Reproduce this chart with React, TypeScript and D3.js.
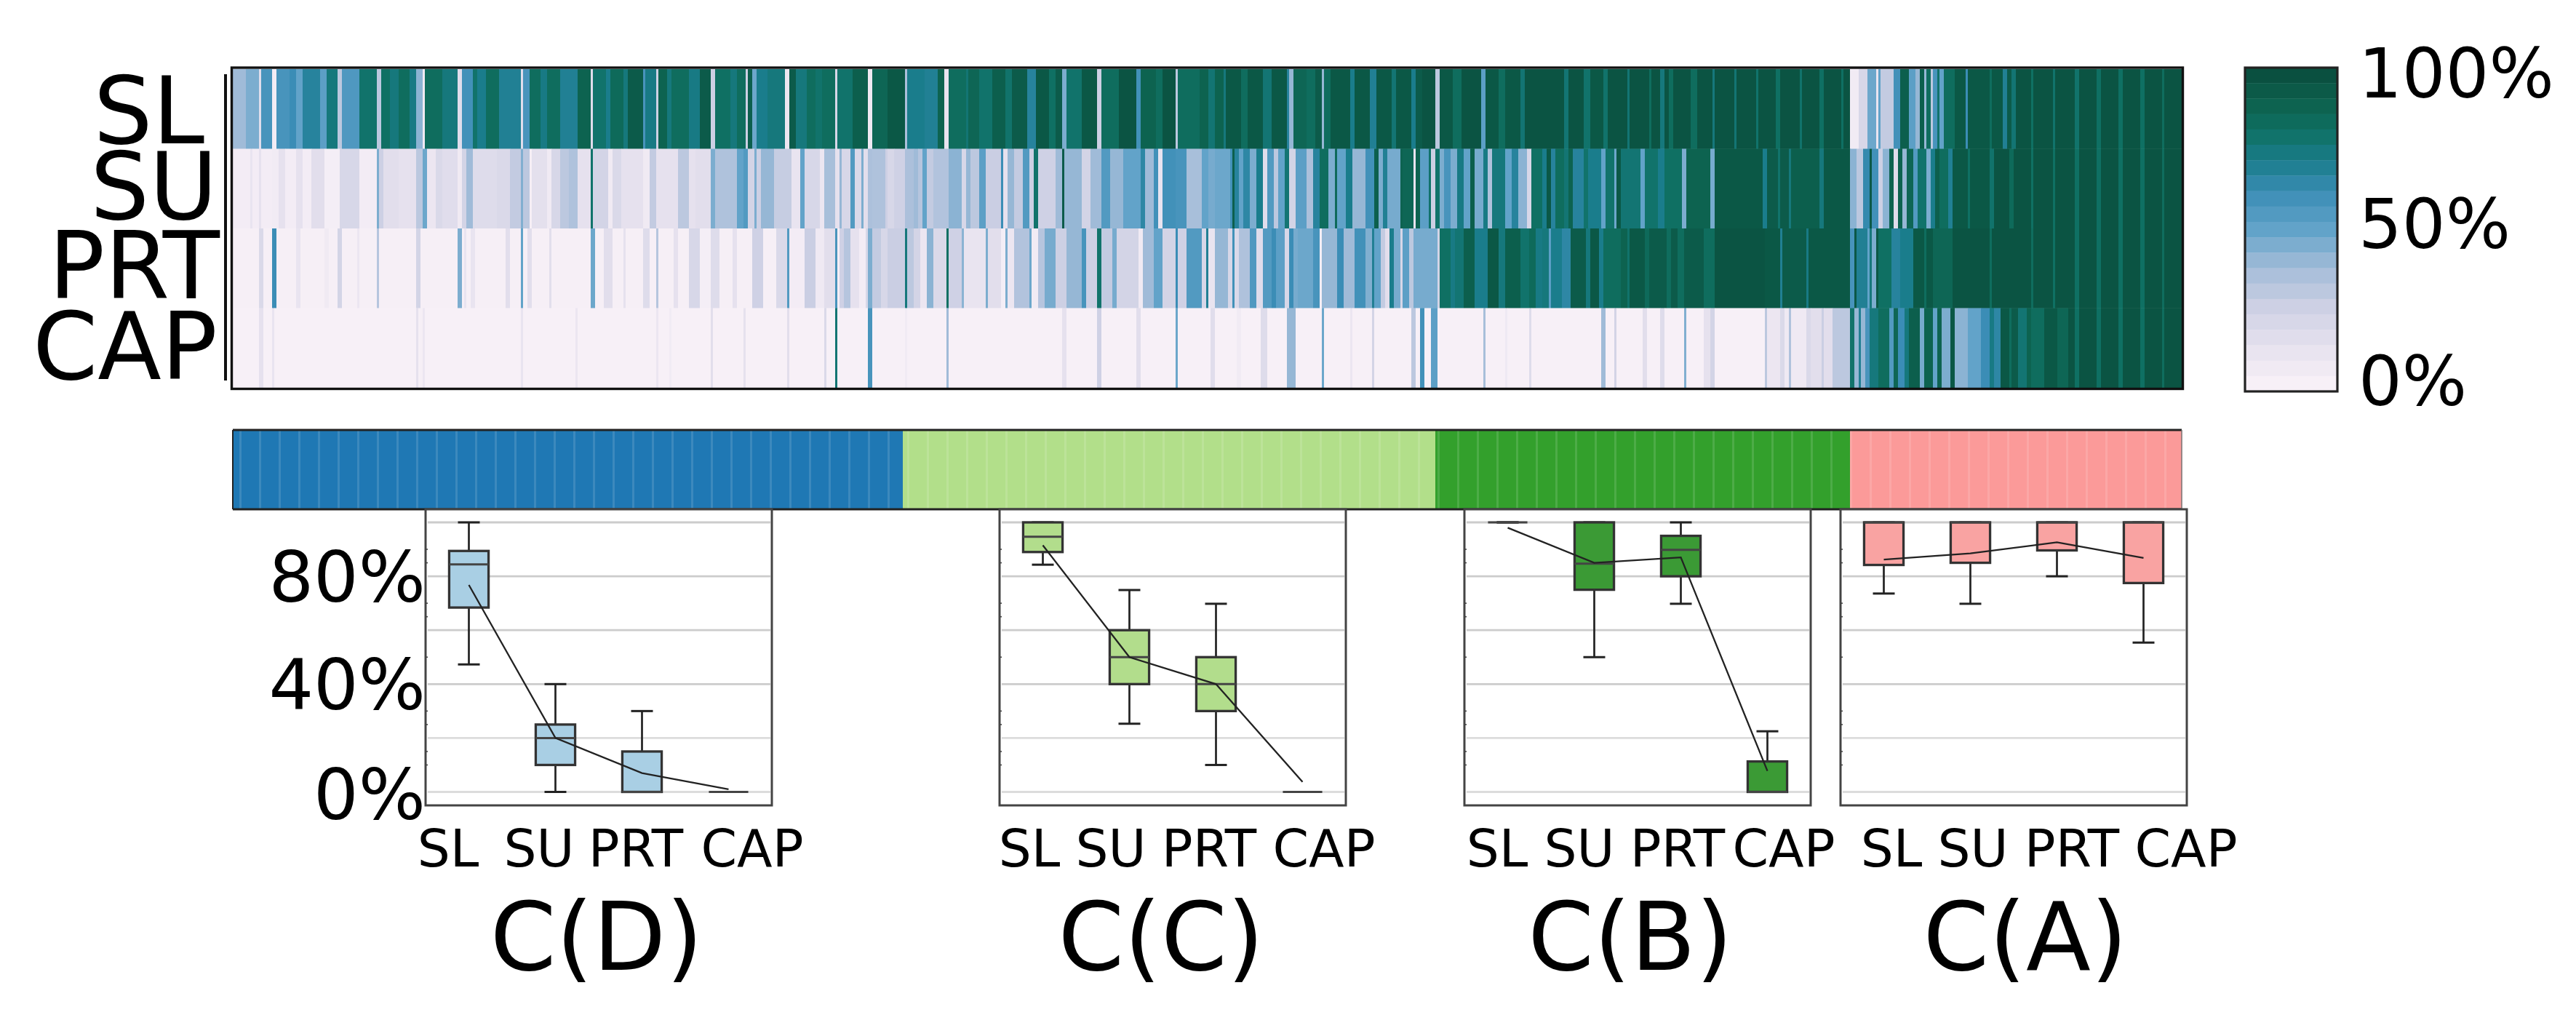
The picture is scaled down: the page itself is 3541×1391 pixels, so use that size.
import * as d3 from 'd3'

const WIDTH = 3541
const HEIGHT = 1391
const FONT = '"DejaVu Sans", sans-serif'

const rowNames = ['SL', 'SU', 'PRT', 'CAP']
const columnCount = 893

// each pair is [last column of the run, percent] left to right
const slRuns = [
  [6,38],[12,45],[13,15],[18,58],[20,3],[26,58],[29,62],[32,50],[40,68],[43,52],[48,76],[50,30],[58,56],[66,80],[68,30],[72,82],[76,76],[81,84],[84,74],[87,42],[88,5],[96,84],[103,76],[105,15],[110,60],[112,80],[116,72],[122,84],[132,70],[133,15],[136,58],[141,84],[144,74],[150,84],
  [158,70],[164,90],[165,15],[171,80],[173,72],[179,86],[181,76],[188,94],[189,58],[194,74],[195,25],[199,90],[201,76],[209,84],[214,74],[219,94],[221,25],[228,82],[231,76],[235,84],[236,25],[238,92],[240,48],[245,72],[253,76],[255,8],[258,94],[263,76],[267,84],[270,80],[276,84],[277,20],[284,80],[291,92],[293,5],[300,88],
  [308,96],[309,35],[317,72],[323,70],[326,90],[328,10],[336,84],[337,78],[342,88],[348,80],[354,92],[357,80],[364,94],[368,68],[374,96],[377,82],[380,94],[382,45],[389,80],[396,96],[398,25],[406,84],[414,98],[416,60],[423,90],[426,84],[432,98],[433,30],[443,84],[447,90],[450,78],
  [454,90],[455,76],[462,96],[465,84],[472,96],[476,78],[483,96],[484,68],[486,40],[492,88],[496,84],[499,94],[500,40],[503,84],[512,96],[514,72],[521,96],[524,70],[531,96],[533,78],[540,96],[542,72],[545,94],[551,98],[553,30],[559,96],[563,84],[572,98],[574,52],[580,96],[583,84],[590,96],[592,78],[600,98],
  [610,98],[612,78],[619,98],[622,80],[628,96],[630,80],[639,98],[640,78],[649,98],[650,84],[654,98],[656,76],[658,98],[660,84],[668,98],[671,84],[678,98],[679,76],[688,98],[689,78],[698,98],[699,80],[707,98],[709,82],[718,98],[719,80],[727,98],[729,82],[737,98],[738,82],[741,98],
  [745,4],[749,20],[753,48],[754,10],[755,50],[761,28],[764,60],[768,92],[771,52],[773,40],[775,92],[776,40],[778,84],[779,30],[781,58],[782,80],[784,50],[789,84],[794,96],[795,62],[805,96],[806,84],[811,96],[813,70],[815,94],[817,78],[824,98],[825,82],[834,98],[835,80],[844,98],[846,80],[854,98],[856,82],[864,98],[866,82],[874,98],[876,82],[884,98],[885,84],[893,98],
]

const suRuns = [
  [8,3],[9,10],[12,3],[13,12],[18,3],[21,4],[24,12],[29,3],[32,12],[36,3],[42,14],[49,2],[58,20],[66,3],[67,45],[69,25],[76,14],[84,12],[87,30],[89,48],[93,8],[96,18],[103,15],[105,5],[107,22],[110,38],[121,16],[127,18],[132,28],[133,44],[136,30],[137,1],[144,13],[146,5],[150,20],
  [154,30],[158,34],[164,12],[165,80],[172,22],[174,5],[178,18],[188,12],[191,5],[194,28],[196,12],[204,12],[209,30],[212,12],[219,14],[221,45],[231,34],[234,50],[236,55],[239,22],[240,45],[242,25],[248,40],[256,27],[260,10],[262,50],[263,20],[269,20],[271,8],[276,36],[278,12],[279,40],[283,20],[285,55],[288,18],[289,45],[291,14],[293,35],[299,34],[300,25],
  [303,20],[308,24],[312,35],[314,38],[316,32],[318,50],[321,28],[328,33],[334,42],[336,20],[338,40],[342,30],[345,52],[352,26],[353,62],[355,12],[358,40],[362,28],[365,55],[367,25],[369,80],[377,24],[380,38],[381,94],[389,40],[393,22],[398,38],[402,55],[408,40],[416,50],[418,66],[422,38],[424,60],[426,10],[432,60],[437,58],[444,36],[447,50],[450,46],
  [457,48],[458,60],[459,92],[461,68],[463,50],[466,66],[469,45],[472,72],[474,15],[477,55],[479,30],[482,50],[484,78],[487,22],[492,52],[495,35],[498,68],[502,84],[505,45],[506,86],[510,50],[513,72],[519,40],[523,60],[525,92],[527,45],[529,70],[535,46],[536,90],[541,88],[542,10],[544,90],[548,52],[549,80],[551,25],[553,80],[555,45],[558,58],[561,45],[564,74],[567,50],[569,92],[573,46],[575,74],[577,34],[583,76],[586,50],[589,68],[593,42],[595,20],[600,82],
  [602,72],[604,96],[606,68],[610,84],[612,78],[614,90],[619,68],[621,80],[627,72],[629,50],[633,80],[634,48],[636,96],[645,78],[647,50],[653,80],[656,72],[664,82],[666,45],[677,90],[679,46],[701,96],[703,72],[708,94],[709,80],[713,94],[714,76],[727,92],[729,76],[741,96],
  [744,42],[747,30],[750,64],[751,96],[754,60],[756,25],[759,42],[761,90],[763,15],[765,90],[767,40],[770,88],[772,55],[776,80],[778,45],[780,72],[782,92],[786,84],[788,70],[795,96],[796,82],[805,96],[807,80],[814,98],[816,86],[824,98],[825,82],[834,98],[835,82],[844,98],[846,82],[854,98],[856,82],[864,98],[866,82],[874,98],[876,82],[884,98],[885,84],[893,98],
]

const prtRuns = [
  [12,1],[14,18],[18,1],[20,62],[29,1],[31,10],[42,1],[44,5],[48,1],[50,22],[57,1],[58,8],[66,1],[67,32],[84,1],[86,22],[103,1],[105,45],[106,1],[107,10],[109,1],[111,10],[125,1],[127,14],[132,1],[133,50],[135,1],[137,14],[145,1],[146,14],[150,1],
  [164,1],[166,48],[170,1],[174,14],[179,1],[180,12],[188,1],[191,16],[194,1],[195,32],[202,1],[204,12],[209,1],[214,20],[219,2],[223,16],[229,1],[231,12],[238,1],[243,24],[249,1],[254,18],[255,55],[262,3],[267,26],[271,6],[276,14],[277,58],[278,2],[280,24],[283,32],[287,12],[290,3],[291,20],[293,45],[297,28],[300,20],
  [308,26],[309,76],[312,30],[315,22],[318,8],[321,42],[327,18],[328,82],[334,24],[335,42],[345,10],[346,45],[352,14],[354,2],[355,45],[358,8],[365,33],[366,48],[369,4],[372,32],[377,46],[382,25],[389,40],[391,58],[396,25],[398,80],[403,28],[405,46],[415,22],[417,5],[422,38],[426,50],[432,22],[433,62],[437,24],[444,55],[446,20],[447,70],[450,10],
  [456,40],[458,20],[459,60],[461,18],[466,34],[469,56],[472,16],[476,55],[478,62],[482,52],[484,20],[486,62],[488,46],[495,48],[498,58],[499,2],[506,40],[509,62],[514,38],[519,60],[522,44],[523,70],[526,50],[528,28],[530,14],[532,72],[535,46],[536,20],[539,52],[541,30],[552,46],[553,22],[558,82],[560,74],[564,78],[569,92],[575,72],[580,96],[583,76],[590,92],[594,80],[597,86],[600,74],
  [603,76],[604,52],[609,72],[613,66],[620,94],[622,76],[626,96],[628,72],[636,84],[639,90],[640,80],[647,96],[649,86],[657,94],[659,84],[662,94],[665,84],[674,94],[679,84],[702,98],[709,96],[710,70],[721,94],[722,74],[741,96],
  [743,58],[744,96],[749,70],[750,50],[751,76],[753,45],[754,96],[760,82],[764,68],[770,72],[775,96],[776,84],[779,96],[788,88],[805,98],[806,84],[824,98],[825,84],[834,98],[835,82],[844,98],[846,82],[854,98],[856,82],[864,98],[866,82],[874,98],[876,82],[884,98],[885,84],[893,98],
]

const capRuns = [
  [12,0],[14,12],[18,0],[19,10],[84,0],[85,12],[87,1],[88,8],[132,0],[133,10],
  [157,0],[158,8],[194,0],[195,8],[200,0],[201,4],[219,0],[220,14],[234,0],[235,12],[254,0],[255,14],[271,0],[272,18],[276,0],[277,78],[291,0],[293,58],
  [308,0],[309,4],[327,0],[328,38],[380,0],[382,12],[396,0],[398,24],[414,0],[416,14],[432,0],[433,48],[448,0],[450,15],
  [460,0],[462,4],[471,0],[474,16],[483,0],[487,40],[499,0],[500,48],[512,0],[513,8],[522,0],[523,22],[540,0],[542,30],[544,0],[546,60],[549,0],[552,52],[573,0],[574,36],[583,0],[584,6],[594,0],[595,16],
  [627,0],[629,38],[633,0],[634,22],[646,0],[648,14],[654,0],[656,16],[665,0],[666,44],[674,0],[677,12],[679,22],[702,0],[703,30],[709,8],[711,18],[713,6],[714,34],[721,6],[723,18],[728,14],[729,26],[733,14],[741,30],
  [743,80],[745,40],[746,70],[748,40],[750,58],[754,76],[759,84],[761,55],[763,88],[766,62],[768,76],[773,92],[775,46],[779,90],[781,50],[783,90],[787,45],[789,96],[795,42],[801,50],[805,62],[807,74],[810,66],[814,96],[815,84],[818,94],[822,78],[824,90],[830,84],[836,96],[841,88],[844,98],[846,82],[854,98],[856,82],[864,98],[866,82],[874,98],[876,82],[884,98],[885,84],[893,98],
]

const heatRows = [slRuns, suRuns, prtRuns, capRuns]

// cluster sizes along the bar, in columns
const clusterNames = ['C(D)', 'C(C)', 'C(B)', 'C(A)']
const clusterSizes = [307, 244, 190, 152]
const clusterColors = ['#1f78b4', '#b2df8a', '#33a02c', '#fb9a99']
const boxColors = ['#a9cfe4', '#b2dd8c', '#3b9a35', '#f9a3a2']

const boxParts = ['SL', 'SU', 'PRT', 'CAP']
// whisker high, q3, median, q1, whisker low, mean
const boxesD = [[100, 89.4, 84.4, 68.4, 47.3, 76.8], [40, 25, 20, 10, 0, 20], [30, 15, 0, 0, 0, 7], [0, 0, 0, 0, 0, 1]]
const boxesC = [[100, 100, 94.7, 89, 84.3, 91.5], [74.9, 60, 50, 40, 25.3, 50], [69.8, 50, 40, 30, 10, 40], [0, 0, 0, 0, 0, 3.7]]
const boxesB = [[100, 100, 100, 100, 100, 98], [100, 100, 84.7, 75, 50, 85], [100, 95, 89.8, 80, 69.8, 87], [22.5, 11.3, 0, 0, 0, 7.8]]
const boxesA = [[100, 100, 100, 84.2, 73.6, 86.2], [100, 100, 100, 85, 69.8, 88.5], [100, 100, 100, 89.6, 80, 92.6], [100, 100, 100, 77.5, 55.4, 86.8]]
const clusterBoxes = [boxesD, boxesC, boxesB, boxesA]

const gridValues = [0, 20, 40, 60, 80, 100]
const minorTickValues = [90, 85, 70, 65, 50, 30, 25, 15, 10]
const yLabels = [80, 40, 0]
const colorbarLabels = [100, 50, 0]

// layout
const HEAT = { left: 320, right: 2999, top: 95, bottom: 533 }
const STRIP = { top: 591, bottom: 700 }
const BAR = { left: 3086, right: 3213, top: 93, bottom: 538 }
const PANEL = { width: 476, top: 700, bottom: 1107, y100: 718, y0: 1088.5 }
const panelLefts = [585, 1374, 2013, 2530]
const partLabelCenters = [
  [616, 741, 874, 1034],
  [1415, 1527, 1662, 1820],
  [2058, 2171, 2306, 2452],
  [2600, 2712, 2848, 3005],
]
const titleCenters = [820, 1596, 2241, 2784]
const rowLabelEnds = [281, 299, 302, 299]
const rowLabelBases = [197, 301, 410, 521]
const barLabelBases = [134, 341, 557]
const yLabelBases = [827, 975, 1126]

const heatColor = d3
  .scaleLinear<string>()
  .domain([0, 12, 25, 37, 50, 62, 72, 82, 90, 100])
  .range(['#f7f0f7', '#e6e1ee', '#cdd0e4', '#a5bdd9', '#62a3c9', '#3b8db6', '#1a7d8c', '#0f7063', '#0d6350', '#0a5040'])
  .interpolate(d3.interpolateRgb)

const columnScale = d3
  .scaleBand<number>()
  .domain(d3.range(columnCount))
  .range([HEAT.left, HEAT.right])

const rowScale = d3
  .scaleBand<string>()
  .domain(rowNames)
  .range([HEAT.top, HEAT.bottom])

const yScale = d3.scaleLinear().domain([0, 100]).range([PANEL.y0, PANEL.y100])

const barLevels = d3.range(0, 21)
const barScale = d3
  .scaleBand<number>()
  .domain(barLevels)
  .range([BAR.top, BAR.bottom])

function HeatRow({ runs, name }: { runs: number[][]; name: string }) {
  const step = columnScale.bandwidth()
  return (
    <g>
      {runs.map(([end, value], index) => {
        const start = index === 0 ? 0 : runs[index - 1][0]
        return (
          <rect
            key={`${name}-${end}`}
            x={columnScale(start)}
            y={rowScale(name)}
            width={(end - start) * step + 0.4}
            height={rowScale.bandwidth() + 0.4}
            fill={heatColor(value)}
          />
        )
      })}
    </g>
  )
}

function ClusterBar() {
  const step = columnScale.bandwidth()
  const ends = d3.cumsum(clusterSizes)
  const stripes = d3.range(3, columnCount, 9)
  return (
    <g>
      {clusterSizes.map((size, index) => (
        <rect
          key={clusterNames[index]}
          x={columnScale(ends[index] - size)}
          y={STRIP.top}
          width={size * step + 0.4}
          height={STRIP.bottom - STRIP.top}
          fill={clusterColors[index]}
        />
      ))}
      {stripes.map((column) => (
        <rect
          key={column}
          x={columnScale(column)}
          y={STRIP.top}
          width={step}
          height={STRIP.bottom - STRIP.top}
          fill="#fff"
          opacity={0.13}
        />
      ))}
      <line x1={HEAT.left} x2={HEAT.right} y1={STRIP.top} y2={STRIP.top} stroke="#222" strokeWidth={3} />
      <line x1={HEAT.left} x2={HEAT.right} y1={STRIP.bottom} y2={STRIP.bottom} stroke="#222" strokeWidth={3} />
      <line x1={HEAT.left} x2={HEAT.left} y1={STRIP.top} y2={STRIP.bottom} stroke="#222" strokeWidth={2} />
      <line x1={HEAT.right} x2={HEAT.right} y1={STRIP.top} y2={STRIP.bottom} stroke="#777" strokeWidth={1.5} />
    </g>
  )
}

function BoxPanel({ index }: { index: number }) {
  const left = panelLefts[index]
  const boxes = clusterBoxes[index]
  const xScale = d3
    .scaleBand<string>()
    .domain(boxParts)
    .range([left, left + PANEL.width])
  const center = (part: string) => (xScale(part) || 0) + xScale.bandwidth() / 2
  const boxWidth = xScale.bandwidth() * 0.455
  const capWidth = 30

  const meanLine = d3
    .line<number[]>()
    .x((_, i) => center(boxParts[i]))
    .y((box) => yScale(box[5]))

  return (
    <g>
      <rect x={left} y={PANEL.top} width={PANEL.width} height={PANEL.bottom - PANEL.top} fill="#fff" />
      {gridValues.map((value) => (
        <line
          key={value}
          x1={left + 3}
          x2={left + PANEL.width - 2}
          y1={yScale(value)}
          y2={yScale(value)}
          stroke={value < 40 ? '#dcdcdc' : '#cccccc'}
          strokeWidth={2.8}
        />
      ))}
      {minorTickValues.map((value) => (
        <line key={value} x1={left} x2={left + 3} y1={yScale(value)} y2={yScale(value)} stroke="#444" strokeWidth={1.6} />
      ))}
      {boxes.map((box, i) => {
        const [high, q3, median, q1, low] = box
        const mid = center(boxParts[i])
        return (
          <g key={boxParts[i]}>
            <line x1={mid} x2={mid} y1={yScale(high)} y2={yScale(q3)} stroke="#222" strokeWidth={2.7} />
            <line x1={mid} x2={mid} y1={yScale(q1)} y2={yScale(low)} stroke="#222" strokeWidth={2.7} />
            <line x1={mid - capWidth / 2} x2={mid + capWidth / 2} y1={yScale(high)} y2={yScale(high)} stroke="#222" strokeWidth={3} />
            <line x1={mid - capWidth / 2} x2={mid + capWidth / 2} y1={yScale(low)} y2={yScale(low)} stroke="#222" strokeWidth={3} />
            <rect
              x={mid - boxWidth / 2}
              y={yScale(q3)}
              width={boxWidth}
              height={yScale(q1) - yScale(q3)}
              fill={boxColors[index]}
              stroke="#333"
              strokeWidth={3.3}
            />
            <line x1={mid - boxWidth / 2} x2={mid + boxWidth / 2} y1={yScale(median)} y2={yScale(median)} stroke="#444" strokeWidth={3} />
          </g>
        )
      })}
      <path d={meanLine(boxes) || ''} fill="none" stroke="#222" strokeWidth={2.3} />
      <rect
        x={left}
        y={PANEL.top}
        width={PANEL.width}
        height={PANEL.bottom - PANEL.top}
        fill="none"
        stroke="#444"
        strokeWidth={3}
      />
      {boxParts.map((part, i) => (
        <text key={part} x={partLabelCenters[index][i]} y={1191} textAnchor="middle" fontSize={71} fill="#000">
          {part}
        </text>
      ))}
      <text x={titleCenters[index]} y={1333} textAnchor="middle" fontSize={130} fill="#000">
        {clusterNames[index]}
      </text>
    </g>
  )
}

export default function App() {
  return (
    <svg
      width={WIDTH}
      height={HEIGHT}
      viewBox={`0 0 ${WIDTH} ${HEIGHT}`}
      style={{ position: 'absolute', left: 0, top: 0, background: '#fff', fontFamily: FONT, filter: 'blur(0.7px)' }}
    >
      {rowNames.map((name, i) => (
        <text key={name} x={rowLabelEnds[i]} y={rowLabelBases[i]} textAnchor="end" fontSize={128} fill="#000">
          {name}
        </text>
      ))}
      <line x1={310} x2={310} y1={102} y2={523} stroke="#111" strokeWidth={4} />

      {heatRows.map((runs, i) => (
        <HeatRow key={rowNames[i]} runs={runs} name={rowNames[i]} />
      ))}
      <rect
        x={HEAT.left - 1.5}
        y={HEAT.top - 2}
        width={HEAT.right - HEAT.left + 3}
        height={HEAT.bottom - HEAT.top + 3.5}
        fill="none"
        stroke="#111"
        strokeWidth={3.4}
      />

      {barLevels.map((level) => (
        <rect
          key={level}
          x={BAR.left}
          y={barScale(level)}
          width={BAR.right - BAR.left}
          height={barScale.bandwidth() + 0.4}
          fill={heatColor(100 - level * 5)}
        />
      ))}
      <rect
        x={BAR.left}
        y={BAR.top}
        width={BAR.right - BAR.left}
        height={BAR.bottom - BAR.top}
        fill="none"
        stroke="#222"
        strokeWidth={3.2}
      />
      {colorbarLabels.map((value, i) => (
        <text key={value} x={3242} y={barLabelBases[i]} fontSize={94} fill="#000">
          {value}%
        </text>
      ))}

      <ClusterBar />

      {clusterNames.map((name, i) => (
        <BoxPanel key={name} index={i} />
      ))}
      {yLabels.map((value, i) => (
        <text key={value} x={585} y={yLabelBases[i]} textAnchor="end" fontSize={97} fill="#000">
          {value}%
        </text>
      ))}
    </svg>
  )
}
